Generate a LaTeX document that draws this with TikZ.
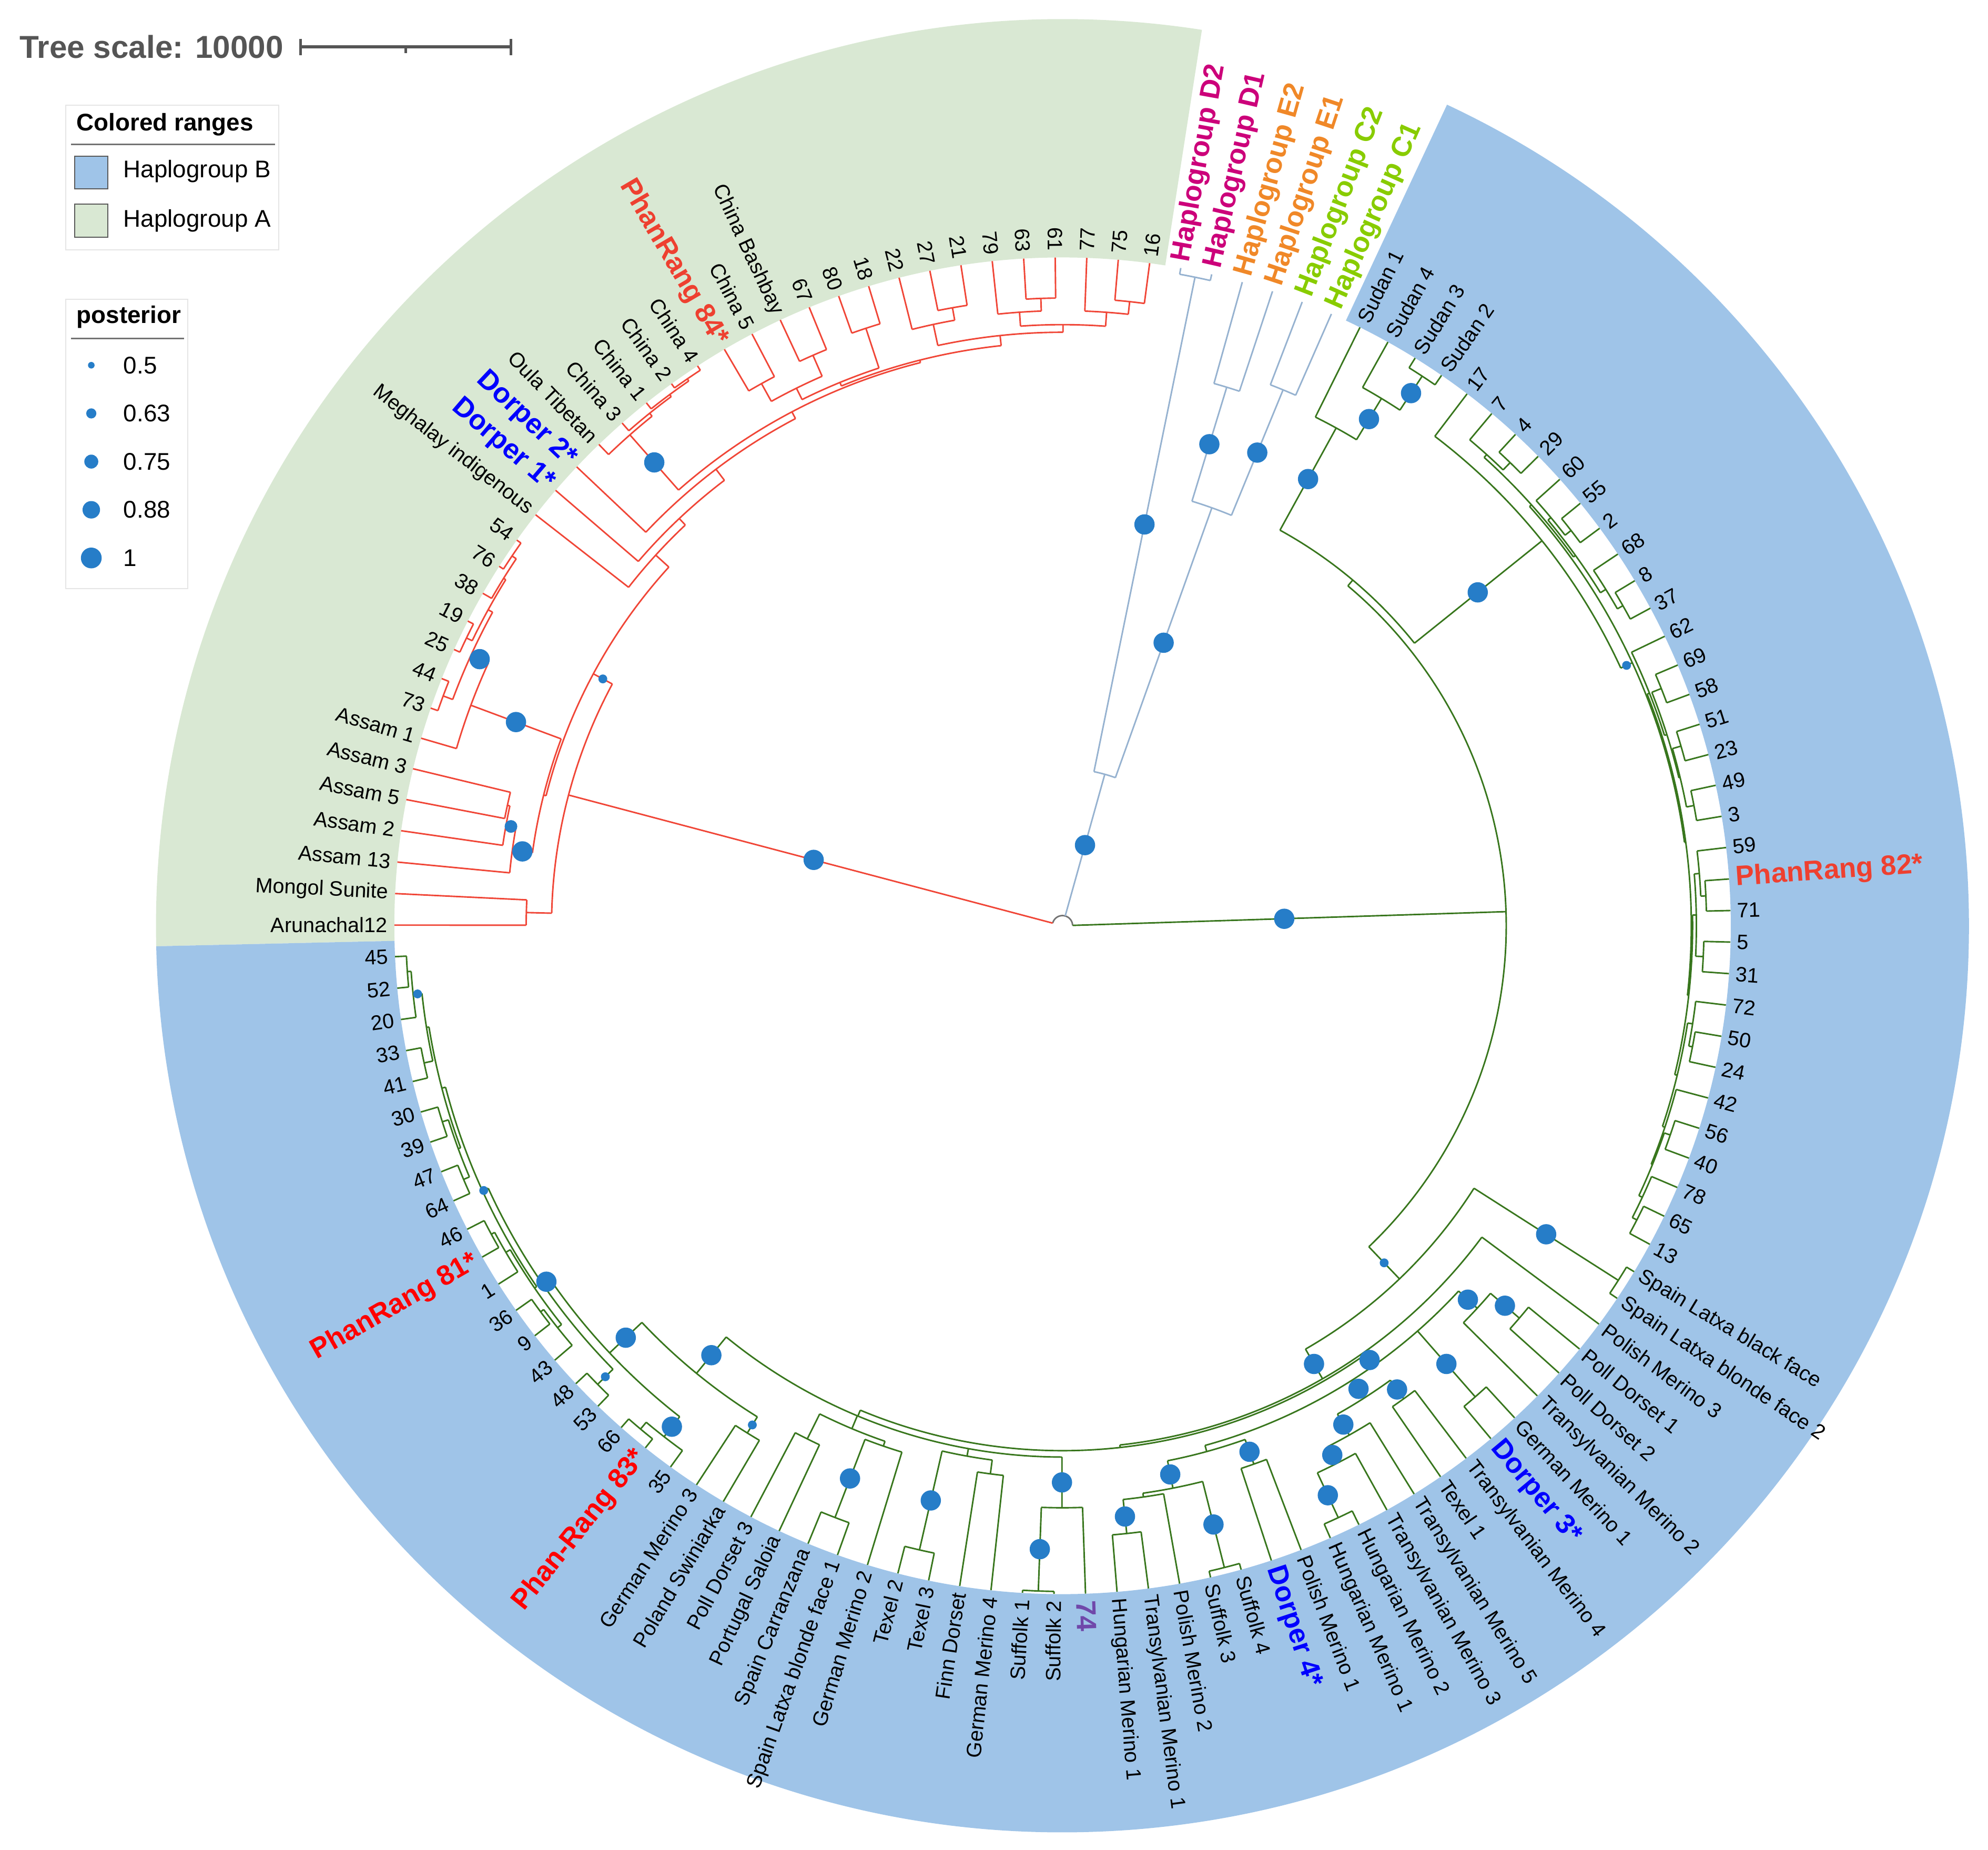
\documentclass[tikz,border=0pt]{standalone}
\usepackage{fontspec}
\setmainfont{Liberation Sans}
\definecolor{ringB}{RGB}{159,196,232}
\definecolor{ringA}{RGB}{217,232,211}
\definecolor{redc}{RGB}{240,70,55}
\definecolor{grc}{RGB}{56,118,29}
\definecolor{ogc}{RGB}{150,178,208}
\definecolor{dotc}{RGB}{38,125,200}
\definecolor{prA}{RGB}{255,0,0}
\definecolor{prB}{RGB}{238,64,48}
\definecolor{dorc}{RGB}{0,0,255}
\definecolor{purp}{RGB}{112,72,170}
\definecolor{hDc}{RGB}{204,0,122}
\definecolor{hEc}{RGB}{240,136,40}
\definecolor{hCc}{RGB}{136,204,0}
\definecolor{scaleg}{RGB}{85,85,85}
\def\aZ{79.8}
\def\dT{2.7068}
\def\RL{527}
\newcommand\tleaf[3]{\draw[#3] ({\aZ-(#1)*\dT}:\RL) -- ({\aZ-(#1)*\dT}:#2);}
\newcommand\tarc[4]{\pgfmathsetmacro\tkA{\aZ-(#1)*\dT}\pgfmathsetmacro\tkB{\aZ-(#2)*\dT}\draw[#4] (\tkA:#3) arc[start angle=\tkA,end angle=\tkB,radius=#3];}
\newcommand\trad[4]{\draw[#4] ({\aZ-(#1)*\dT}:#2) -- ({\aZ-(#1)*\dT}:#3);}
\newcommand\tnode[5]{\tarc{#1}{#2}{#3}{#5}\trad{(#1+#2)/2}{#3}{#4}{#5}}
\newcommand\tdot[3]{\fill[dotc] ({\aZ-(#1)*\dT}:#2) circle[radius=#3];}
\newcommand\tlab[3][]{%
  \pgfmathsetmacro\labA{mod(\aZ-(#2)*\dT+720,360)}%
  \pgfmathtruncatemacro\lside{cos(\labA)>=0}%
  \ifnum\lside=1
    \node[lbl,#1,anchor=west,rotate=\labA] (L#2) at (\labA:532) {#3};
  \else
    \pgfmathsetmacro\labB{\labA-180}%
    \node[lbl,#1,anchor=east,rotate=\labB] (L#2) at (\labA:532) {#3};
  \fi}
\tikzset{
  brR/.style={draw=redc,line width=0.6pt},
  brG/.style={draw=grc,line width=0.6pt},
  brO/.style={draw=ogc,line width=0.6pt},
  lbl/.style={inner sep=0pt,font=\fontsize{8.2}{9}\selectfont},
  bl/.style={font=\bfseries\fontsize{11}{12}\selectfont},
  hD/.style={bl,text=hDc}, hE/.style={bl,text=hEc}, hC/.style={bl,text=hCc},
  prone/.style={bl,text=prA}, prtwo/.style={bl,text=prB},
  dor/.style={bl,text=dorc}, pur/.style={bl,text=purp},
  legt/.style={anchor=west,inner sep=0pt,font=\fontsize{9.5}{11}\selectfont},
  legb/.style={anchor=west,inner sep=0pt,font=\bfseries\fontsize{9.5}{11}\selectfont}
}
\begin{document}
\begin{tikzpicture}[x=0.5pt,y=0.5pt]
\useasboundingbox (0,0) rectangle (1568,-1458.6);
% ---------- legend ----------
\node[anchor=west,inner sep=0pt,text=scaleg,font=\bfseries\fontsize{12.5}{14}\selectfont] (ts) at (15,-37) {Tree scale: 10000};
\draw[scaleg,line width=1.25pt] (237,-37) -- (403,-37);
\draw[scaleg,line width=1.1pt] (237,-30.5) -- (237,-43.5) (403,-30.5) -- (403,-43.5) (320,-37) -- (320,-42);
\draw[black!10,fill=white] (52,-83) rectangle (220,-197);
\node[legb] (lg1) at (60,-98) {Colored ranges};
\draw[black!55,line width=0.6pt] (56,-114) -- (217,-114);
\draw[fill=ringB,draw=black!65] (59,-123) rectangle (85,-149);
\draw[fill=ringA,draw=black!65] (59,-161) rectangle (85,-187);
\node[legt] (lgB) at (97,-135) {Haplogroup B};
\node[legt] (lgA) at (97,-174) {Haplogroup A};
\draw[black!10,fill=white] (52,-236) rectangle (148,-464);
\node[legb] (lg2) at (60,-250) {posterior};
\draw[black!55,line width=0.6pt] (56,-267) -- (145,-267);
\fill[dotc] (72,-288) circle[radius=2.6];
\fill[dotc] (72,-326) circle[radius=4];
\fill[dotc] (72,-364) circle[radius=5.5];
\fill[dotc] (72,-402) circle[radius=6.9];
\fill[dotc] (72,-440) circle[radius=8.2];
\node[legt] (p1) at (97,-288) {0.5};
\node[legt] (p2) at (97,-326) {0.63};
\node[legt] (p3) at (97,-364) {0.75};
\node[legt] (p4) at (97,-402) {0.88};
\node[legt] (p5) at (97,-440) {1};
\begin{scope}[shift={(838,-730)}]
% ---------- colored ranges ----------
\fill[ringA] (81.15:527) arc[start angle=81.15,end angle=181.3,radius=527] -- (181.3:715) arc[start angle=181.3,end angle=81.15,radius=715] -- cycle;
\fill[ringB] (64.9:527) arc[start angle=64.9,end angle=-178.7,radius=527] -- (-178.7:715) arc[start angle=-178.7,end angle=64.9,radius=715] -- cycle;
% ---------- root ----------
\draw[black!55,line width=0.6pt] (1.8:8) arc[start angle=1.8,end angle=165.2,radius=8];
% ---------- outgroups ----------
\tnode{0.5}{3.5}{124}{8}{brO}
\tnode{0}{1}{522}{124}{brO}
\tnode{2.5}{4.5}{350}{124}{brO}
\tnode{2}{3}{444}{350}{brO}
\tnode{4}{5}{457}{350}{brO}
\tleaf{0}{522}{brO}\tleaf{1}{522}{brO}
\tleaf{2}{444}{brO}\tleaf{3}{444}{brO}
\tleaf{4}{457}{brO}\tleaf{5}{457}{brO}
% ---------- haplogroup A (red) ----------
\tnode{96.5}{106.41}{403}{8}{brR}
\tnode{96}{97}{423}{403}{brR}
\tnode{101.2}{111.62}{420}{403}{brR}
\tnode{98.875}{103.53}{422}{420}{brR}
\tnode{98}{99.75}{438}{422}{brR}
\tnode{99}{100.5}{446}{438}{brR}
\tnode{100}{101}{448}{446}{brR}
\tnode{102}{105.06}{498}{422}{brR}
\tnode{103.5}{106.625}{513}{498}{brR}
\tnode{103}{104}{521}{513}{brR}
\tnode{105.5}{107.75}{517}{513}{brR}
\tnode{105}{106}{522}{517}{brR}
\tnode{107}{108.5}{519}{517}{brR}
\tnode{108}{109}{523}{519}{brR}
\tnode{110}{113.24}{434}{420}{brR}
\tnode{111}{115.49}{441}{434}{brR}
\tnode{112}{118.97}{452}{441}{brR}
\tnode{113.94}{124}{458}{452}{brR}
\tnode{113}{114.875}{516}{458}{brR}
\tnode{114}{115.75}{519}{516}{brR}
\tnode{115}{116.5}{521}{519}{brR}
\tnode{116}{117}{523}{521}{brR}
\tnode{121}{127}{460}{458}{brR}
\tnode{119.5}{122.5}{463}{460}{brR}
\tnode{118.5}{120.5}{473}{463}{brR}
\tnode{118}{119}{489}{473}{brR}
\tnode{120}{121}{491}{473}{brR}
\tnode{122}{123}{496}{463}{brR}
\tnode{124.75}{129.25}{468}{460}{brR}
\tnode{124}{125.5}{485}{468}{brR}
\tnode{125}{126}{495}{485}{brR}
\tnode{127.75}{130.75}{474}{468}{brR}
\tnode{127}{128.5}{485}{474}{brR}
\tnode{128}{129}{495}{485}{brR}
\tnode{130}{131.5}{485}{474}{brR}
\tnode{131}{132}{495}{485}{brR}
\tleaf{96}{423}{brR}\tleaf{97}{423}{brR}\tleaf{98}{438}{brR}\tleaf{99}{446}{brR}
\tleaf{100}{448}{brR}\tleaf{101}{448}{brR}\tleaf{102}{498}{brR}\tleaf{103}{521}{brR}
\tleaf{104}{521}{brR}\tleaf{105}{522}{brR}\tleaf{106}{522}{brR}\tleaf{107}{519}{brR}
\tleaf{108}{523}{brR}\tleaf{109}{523}{brR}\tleaf{110}{434}{brR}\tleaf{111}{441}{brR}
\tleaf{112}{452}{brR}\tleaf{113}{516}{brR}\tleaf{114}{519}{brR}\tleaf{115}{521}{brR}
\tleaf{116}{523}{brR}\tleaf{117}{523}{brR}\tleaf{118}{489}{brR}\tleaf{119}{489}{brR}
\tleaf{120}{491}{brR}\tleaf{121}{491}{brR}\tleaf{122}{496}{brR}\tleaf{123}{496}{brR}
\tleaf{124}{485}{brR}\tleaf{125}{495}{brR}\tleaf{126}{495}{brR}\tleaf{127}{485}{brR}
\tleaf{128}{495}{brR}\tleaf{129}{495}{brR}\tleaf{130}{485}{brR}\tleaf{131}{495}{brR}
\tleaf{132}{495}{brR}
% ---------- haplogroup B (green) ----------
\tnode{11.02}{46.6}{350}{8}{brG}
\tnode{6.875}{15.165}{356}{350}{brG}
\tnode{6}{7.75}{448}{356}{brG}
\tnode{7}{8.5}{486}{448}{brG}
\tnode{8}{9}{518}{486}{brG}
\tnode{10}{20.33}{485}{356}{brG}
\tnode{14}{26.66}{495}{485}{brG}
\tnode{11.75}{16.25}{497}{495}{brG}
\tnode{11}{12.5}{500}{497}{brG}
\tnode{12}{13}{508}{500}{brG}
\tnode{14.75}{17.75}{499}{497}{brG}
\tnode{14}{15.5}{502}{499}{brG}
\tnode{15}{16}{508}{502}{brG}
\tnode{17}{18.5}{504}{499}{brG}
\tnode{18}{19}{509}{504}{brG}
\tnode{21.5}{31.83}{496}{495}{brG}
\tnode{20}{23}{498}{496}{brG}
\tnode{21.5}{24.5}{500}{498}{brG}
\tnode{21}{22}{508}{500}{brG}
\tnode{23.5}{25.5}{501}{500}{brG}
\tnode{23}{24}{508}{501}{brG}
\tnode{25}{26}{507}{501}{brG}
\tnode{29.125}{34.53}{497}{496}{brG}
\tnode{27.75}{30.5}{500}{497}{brG}
\tnode{27}{28.5}{504}{500}{brG}
\tnode{28}{29}{508}{504}{brG}
\tnode{30}{31}{506}{500}{brG}
\tnode{32.75}{36.31}{499}{497}{brG}
\tnode{32}{33.5}{503}{499}{brG}
\tnode{33}{34}{506}{503}{brG}
\tnode{35}{37.625}{501}{499}{brG}
\tnode{36.5}{38.75}{502}{501}{brG}
\tnode{36}{37}{507}{502}{brG}
\tnode{38}{39.5}{505}{502}{brG}
\tnode{39}{40}{509}{505}{brG}
% lower B
\tnode{41.5}{51.7}{385}{350}{brG}
\tnode{41}{42}{520}{385}{brG}
\tnode{43}{60.4}{412}{385}{brG}
\tnode{49.7}{71.1}{414}{412}{brG}
\tarc{45.25}{57.06}{425}{brG}\trad{49.7}{425}{414}{brG}
\tnode{44.5}{46}{445}{425}{brG}
\tnode{44}{45}{475}{445}{brG}
\tnode{47}{48}{494}{425}{brG}
\tnode{49.5}{51.875}{442}{425}{brG}
\tnode{49}{50}{460}{442}{brG}
\tnode{51}{52.75}{461}{442}{brG}
\tnode{52}{53.5}{476}{461}{brG}
\tnode{53}{54}{515}{476}{brG}
\tnode{55.5}{58.625}{430}{425}{brG}
\tnode{55}{56}{450.6}{430}{brG}
\tnode{57.5}{59.75}{452}{430}{brG}
\tnode{57}{58}{522}{452}{brG}
\tnode{59}{60.5}{455}{452}{brG}
\tnode{60}{61}{482}{455}{brG}
\tarc{62.75}{77.24}{419}{brG}\trad{71.1}{419}{414}{brG}
\tnode{62}{63.5}{459}{419}{brG}
\tnode{63}{64}{525}{459}{brG}
\tnode{65.5}{67.5}{425}{419}{brG}
\tnode{65}{66}{436}{425}{brG}
\tnode{67}{68}{505}{425}{brG}
\tnode{69.75}{72.5}{430}{419}{brG}
\tnode{69}{70.5}{434}{430}{brG}
\tnode{70}{71}{500}{434}{brG}
\tnode{72}{73}{452}{430}{brG}
\tnode{74.5}{79.98}{456}{419}{brG}
\tnode{74}{75}{471}{456}{brG}
\tnode{76.75}{83.2}{491}{456}{brG}
\tnode{76}{77.5}{511}{491}{brG}
\tnode{77}{78}{518}{511}{brG}
\tnode{79.5}{86.9}{498}{491}{brG}
\tnode{79}{80}{515}{498}{brG}
\tnode{83.25}{90.56}{503}{498}{brG}
\tnode{81.75}{84.75}{505}{503}{brG}
\tnode{81}{82.5}{509}{505}{brG}
\tnode{82}{83}{512}{509}{brG}
\tnode{84}{85.5}{509}{505}{brG}
\tnode{85}{86}{512}{509}{brG}
\tnode{88.5}{92.625}{506}{503}{brG}
\tnode{87.5}{89.5}{508}{506}{brG}
\tnode{87}{88}{513}{508}{brG}
\tnode{89}{90}{513}{508}{brG}
\tnode{91.5}{93.75}{508}{506}{brG}
\tnode{91}{92}{515}{508}{brG}
\tnode{93}{94.5}{515}{508}{brG}
\tnode{94}{95}{518}{515}{brG}
% green leaves
\tleaf{6}{448}{brG}\tleaf{7}{486}{brG}\tleaf{8}{518}{brG}\tleaf{9}{518}{brG}
\tleaf{10}{485}{brG}\tleaf{11}{500}{brG}\tleaf{12}{508}{brG}\tleaf{13}{508}{brG}
\tleaf{14}{502}{brG}\tleaf{15}{508}{brG}\tleaf{16}{508}{brG}\tleaf{17}{504}{brG}
\tleaf{18}{509}{brG}\tleaf{19}{509}{brG}\tleaf{20}{498}{brG}\tleaf{21}{508}{brG}
\tleaf{22}{508}{brG}\tleaf{23}{508}{brG}\tleaf{24}{508}{brG}\tleaf{25}{507}{brG}
\tleaf{26}{507}{brG}\tleaf{27}{504}{brG}\tleaf{28}{508}{brG}\tleaf{29}{508}{brG}
\tleaf{30}{506}{brG}\tleaf{31}{506}{brG}\tleaf{32}{503}{brG}\tleaf{33}{506}{brG}
\tleaf{34}{506}{brG}\tleaf{35}{501}{brG}\tleaf{36}{507}{brG}\tleaf{37}{507}{brG}
\tleaf{38}{505}{brG}\tleaf{39}{509}{brG}\tleaf{40}{509}{brG}
\tleaf{41}{520}{brG}\tleaf{42}{520}{brG}\tleaf{43}{412}{brG}\tleaf{44}{475}{brG}
\tleaf{45}{475}{brG}\tleaf{46}{445}{brG}\tleaf{47}{494}{brG}\tleaf{48}{494}{brG}
\tleaf{49}{460}{brG}\tleaf{50}{460}{brG}\tleaf{51}{461}{brG}\tleaf{52}{476}{brG}
\tleaf{53}{515}{brG}\tleaf{54}{515}{brG}\tleaf{55}{450.6}{brG}\tleaf{56}{450.6}{brG}
\tleaf{57}{522}{brG}\tleaf{58}{522}{brG}\tleaf{59}{455}{brG}\tleaf{60}{482}{brG}
\tleaf{61}{482}{brG}\tleaf{62}{459}{brG}\tleaf{63}{525}{brG}\tleaf{64}{525}{brG}
\tleaf{65}{436}{brG}\tleaf{66}{436}{brG}\tleaf{67}{505}{brG}\tleaf{68}{505}{brG}
\tleaf{69}{434}{brG}\tleaf{70}{500}{brG}\tleaf{71}{500}{brG}\tleaf{72}{452}{brG}
\tleaf{73}{452}{brG}\tleaf{74}{471}{brG}\tleaf{75}{471}{brG}\tleaf{76}{511}{brG}
\tleaf{77}{518}{brG}\tleaf{78}{518}{brG}\tleaf{79}{515}{brG}\tleaf{80}{515}{brG}
\tleaf{81}{509}{brG}\tleaf{82}{512}{brG}\tleaf{83}{512}{brG}\tleaf{84}{509}{brG}
\tleaf{85}{512}{brG}\tleaf{86}{512}{brG}\tleaf{87}{513}{brG}\tleaf{88}{513}{brG}
\tleaf{89}{513}{brG}\tleaf{90}{513}{brG}\tleaf{91}{515}{brG}\tleaf{92}{515}{brG}
\tleaf{93}{515}{brG}\tleaf{94}{518}{brG}\tleaf{95}{518}{brG}
% ---------- posterior dots ----------
\tdot{2}{66}{8}\tdot{0.5}{323}{8}\tdot{3.5}{237}{8}\tdot{2.5}{397}{8}\tdot{4.5}{403.5}{8}
\tdot{101.455}{203}{8}\tdot{106.41}{411.5}{3.5}\tdot{98.875}{430}{8}\tdot{99.75}{442}{5}
\tdot{103.53}{460}{8}\tdot{105.06}{505.5}{8}\tdot{113.94}{487}{8}
\tdot{28.82}{175}{8}\tdot{6.875}{402}{8}\tdot{15.165}{420}{8}\tdot{7.75}{467}{8}\tdot{8.5}{502}{8}
\tdot{20.33}{490}{3.5}\tdot{46.6}{367.5}{3.5}\tdot{41.5}{452.5}{8}\tdot{51.7}{398.5}{8}
\tdot{49.7}{419.5}{8}
\tdot{45.25}{435}{8}\tdot{44.5}{460}{8}\tdot{47.5}{459.5}{8}\tdot{50.69}{433.5}{8}
\tdot{49.5}{451}{8}\tdot{51.875}{451.5}{8}\tdot{52.75}{468.5}{8}\tdot{53.5}{495.5}{8}
\tdot{55.5}{440.3}{8}\tdot{58.625}{441}{8}\tdot{57.5}{487}{8}\tdot{60.5}{468.5}{8}
\tdot{62.75}{439}{8}\tdot{63.5}{492}{8}\tdot{67.5}{465}{8}\tdot{70.5}{467}{8}
\tdot{74.5}{463.5}{3.5}\tdot{77.24}{437.5}{8}\tdot{79.975}{473.5}{8}\tdot{76.75}{501}{8}
\tdot{83.2}{494.5}{8}\tdot{79.5}{506.5}{3.5}\tdot{86.9}{502}{3.5}\tdot{93.75}{511.5}{3.5}
% ---------- labels ----------
\tlab[hD]{0}{Haplogroup D2}\tlab[hD]{1}{Haplogroup D1}
\tlab[hE]{2}{Haplogroup E2}\tlab[hE]{3}{Haplogroup E1}
\tlab[hC]{4}{Haplogroup C2}\tlab[hC]{5}{Haplogroup C1}
\tlab{6}{Sudan 1}\tlab{7}{Sudan 4}\tlab{8}{Sudan 3}\tlab{9}{Sudan 2}
\tlab{10}{17}\tlab{11}{7}\tlab{12}{4}\tlab{13}{29}\tlab{14}{60}\tlab{15}{55}
\tlab{16}{2}\tlab{17}{68}\tlab{18}{8}\tlab{19}{37}\tlab{20}{62}\tlab{21}{69}
\tlab{22}{58}\tlab{23}{51}\tlab{24}{23}\tlab{25}{49}\tlab{26}{3}\tlab{27}{59}
\tlab[prtwo]{28}{PhanRang 82*}\tlab{29}{71}\tlab{30}{5}\tlab{31}{31}\tlab{32}{72}
\tlab{33}{50}\tlab{34}{24}\tlab{35}{42}\tlab{36}{56}\tlab{37}{40}\tlab{38}{78}
\tlab{39}{65}\tlab{40}{13}
\tlab{41}{Spain Latxa black face}\tlab{42}{Spain Latxa blonde face 2}
\tlab{43}{Polish Merino 3}\tlab{44}{Poll Dorset 1}\tlab{45}{Poll Dorset 2}
\tlab{46}{Transylvanian Merino 2}\tlab{47}{German Merino 1}\tlab[dor]{48}{Dorper 3*}
\tlab{49}{Transylvanian Merino 4}\tlab{50}{Texel 1}\tlab{51}{Transylvanian Merino 5}
\tlab{52}{Transylvanian Merino 3}\tlab{53}{Hungarian Merino 2}\tlab{54}{Hungarian Merino 1}
\tlab{55}{Polish Merino 1}\tlab[dor]{56}{Dorper 4*}\tlab{57}{Suffolk 4}\tlab{58}{Suffolk 3}
\tlab{59}{Polish Merino 2}\tlab{60}{Transylvanian Merino 1}\tlab{61}{Hungarian Merino 1}
\tlab[pur]{62}{74}\tlab{63}{Suffolk 2}\tlab{64}{Suffolk 1}\tlab{65}{German Merino 4}
\tlab{66}{Finn Dorset}\tlab{67}{Texel 3}\tlab{68}{Texel 2}\tlab{69}{German Merino 2}
\tlab{70}{Spain Latxa blonde face 1}\tlab{71}{Spain Carranzana}\tlab{72}{Portugal Saloia}
\tlab{73}{Poll Dorset 3}\tlab{74}{Poland Swiniarka}\tlab{75}{German Merino 3}
\tlab{76}{35}\tlab[prone]{77}{Phan-Rang 83*}\tlab{78}{66}\tlab{79}{53}\tlab{80}{48}
\tlab{81}{43}\tlab{82}{9}\tlab{83}{36}\tlab{84}{1}\tlab[prone]{85}{PhanRang 81*}
\tlab{86}{46}\tlab{87}{64}\tlab{88}{47}\tlab{89}{39}\tlab{90}{30}\tlab{91}{41}
\tlab{92}{33}\tlab{93}{20}\tlab{94}{52}\tlab{95}{45}
\tlab{96}{Arunachal12}\tlab{97}{Mongol Sunite}\tlab{98}{Assam 13}\tlab{99}{Assam 2}
\tlab{100}{Assam 5}\tlab{101}{Assam 3}\tlab{102}{Assam 1}\tlab{103}{73}\tlab{104}{44}
\tlab{105}{25}\tlab{106}{19}\tlab{107}{38}\tlab{108}{76}\tlab{109}{54}
\tlab{110}{Meghalay indigenous}\tlab[dor]{111}{Dorper 1*}\tlab[dor]{112}{Dorper 2*}
\tlab{113}{Oula Tibetan}\tlab{114}{China 3}\tlab{115}{China 1}\tlab{116}{China 2}
\tlab{117}{China 4}\tlab[prtwo]{118}{PhanRang 84*}\tlab{119}{China 5}
\tlab{120}{China Bashbay}\tlab{121}{67}\tlab{122}{80}\tlab{123}{18}\tlab{124}{22}
\tlab{125}{27}\tlab{126}{21}\tlab{127}{79}\tlab{128}{63}\tlab{129}{61}\tlab{130}{77}
\tlab{131}{75}\tlab{132}{16}
\end{scope}
\end{tikzpicture}
\end{document}
